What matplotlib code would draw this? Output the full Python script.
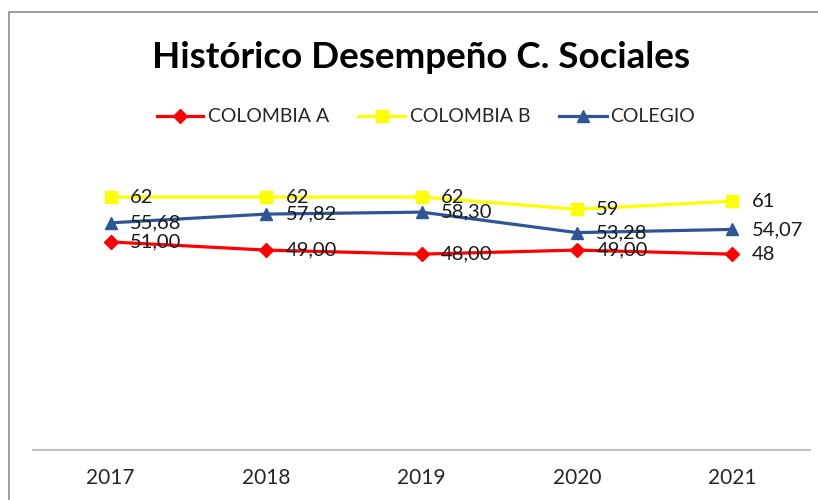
import matplotlib
matplotlib.use("Agg")
import matplotlib.pyplot as plt
from matplotlib.patches import Rectangle
from matplotlib.lines import Line2D

years = ["2017", "2018", "2019", "2020", "2021"]
colombia_a = [51.00, 49.00, 48.00, 49.00, 48]
colombia_b = [62, 62, 62, 59, 61]
colegio = [55.68, 57.82, 58.30, 53.28, 54.07]
labels_a = ["51,00", "49,00", "48,00", "49,00", "48"]
labels_b = ["62", "62", "62", "59", "61"]
labels_c = ["55,68", "57,82", "58,30", "53,28", "54,07"]

plt.rcParams['font.family'] = ['Lato', 'DejaVu Sans']

W, H = 818, 500
fig = plt.figure(figsize=(W / 100, H / 100), dpi=100)
ax = fig.add_axes([33 / W, 1 - 450 / H, (810 - 33) / W, (450 - 164.4) / H])

x = list(range(len(years)))
series = [
    ("COLOMBIA A", colombia_a, labels_a, "#FF0000", "D", 7.5),
    ("COLOMBIA B", colombia_b, labels_b, "#FFFF00", "s", 8.5),
    ("COLEGIO", colegio, labels_c, "#2F5597", "^", 8.5),
]
for name, vals, labs, col, mk, ms in series:
    ax.plot(x, vals, color=col, lw=2.3, marker=mk, markersize=ms,
            markerfacecolor=col, markeredgecolor=col, label=name)
    for xi, v, lb in zip(x, vals, labs):
        ax.annotate(lb, (xi, v), xytext=(14, 0), textcoords="offset points",
                    va="center", ha="left", fontsize=14.5, color="#1a1a1a")

ax.set_xlim(-0.5, 4.5)
ax.set_ylim(0, 70)
ax.set_xticks(x)
ax.set_xticklabels(years, fontsize=15, color="#262626")
ax.tick_params(axis="x", length=0, pad=13)
ax.set_yticks([])
for s in ["top", "right", "left"]:
    ax.spines[s].set_visible(False)
ax.spines["bottom"].set_color("#BFBFBF")
ax.spines["bottom"].set_linewidth(1.5)
ax.patch.set_visible(False)

fig.text(421 / W, 1 - 68 / H, "Histórico Desempeño C. Sociales", ha="center",
         va="baseline", fontsize=26.5, fontweight="bold", color="#000000")

# legend drawn manually to match the reference placement
leg_y = 1 - 116 / H
leg_pos = [(157, 203, 208), (358, 405, 410), (559, 607, 610)]
for (name, vals, labs, col, mk, ms), (x0, x1, xt) in zip(series, leg_pos):
    fig.lines.append(Line2D([x0 / W, x1 / W], [leg_y, leg_y], transform=fig.transFigure,
                            color=col, lw=2.3))
    fig.lines.append(Line2D([(x0 + x1) / 2 / W], [leg_y], transform=fig.transFigure,
                            color=col, marker=mk, markersize=ms - 0.5, lw=0,
                            markerfacecolor=col, markeredgecolor=col))
    fig.text(xt / W, leg_y, name, ha="left", va="center", fontsize=14, color="#262626")

fig.patches.append(Rectangle((9 / W, -0.1), 2, 1.1 - 12 / H, transform=fig.transFigure,
                             fill=False, edgecolor="#8C8C8C", lw=1.2))

fig.savefig("out.png", dpi=100)
